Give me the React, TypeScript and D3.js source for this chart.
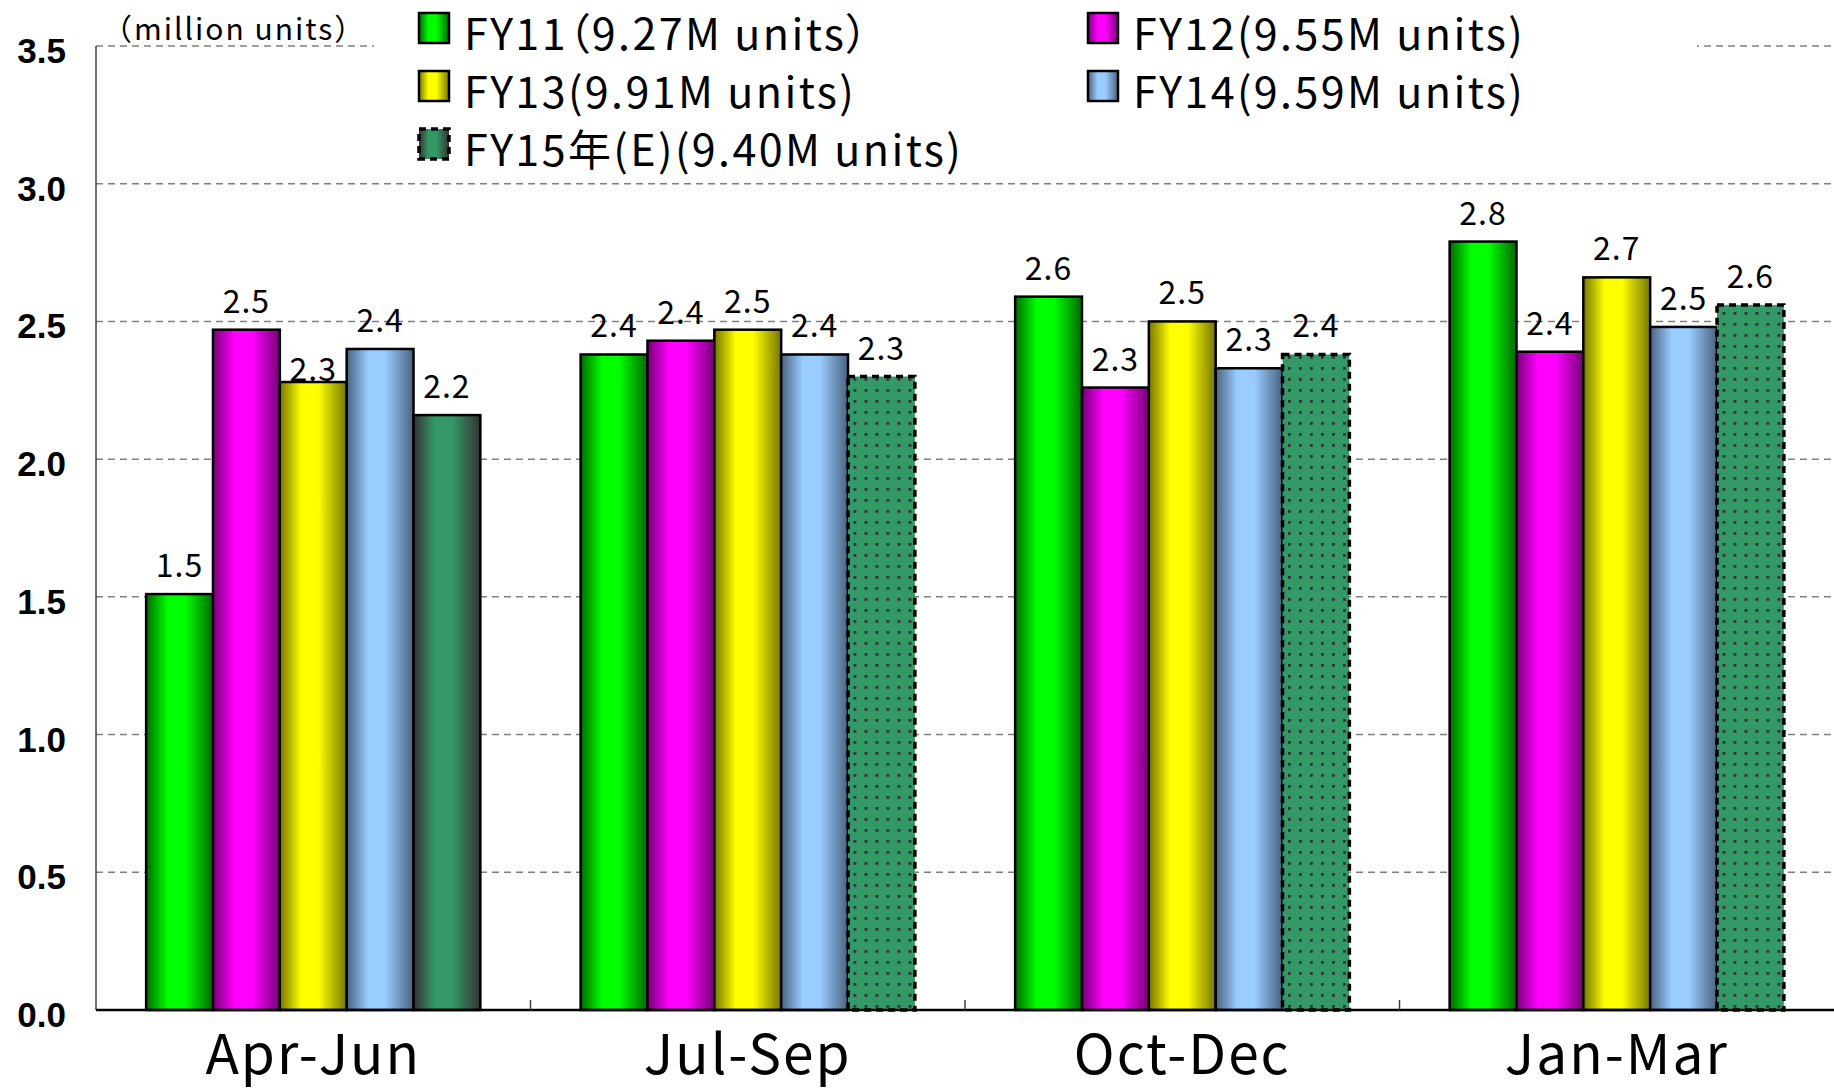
import React from 'react';
import * as d3 from 'd3';

// Quarterly unit sales (million units) by fiscal year
const categories = ['Apr-Jun', 'Jul-Sep', 'Oct-Dec', 'Jan-Mar'];
const seriesKeys = ['FY11', 'FY12', 'FY13', 'FY14', 'FY15'];
const seriesLabels = [
  'FY11（9.27M units）',
  'FY12(9.55M units)',
  'FY13(9.91M units)',
  'FY14(9.59M units)',
  'FY15年(E)(9.40M units)',
];
const fy11 = [1.51, 2.38, 2.59, 2.79];
const fy12 = [2.47, 2.43, 2.26, 2.39];
const fy13 = [2.28, 2.47, 2.5, 2.66];
const fy14 = [2.4, 2.38, 2.33, 2.48];
const fy15 = [2.16, 2.3, 2.38, 2.56];
// FY15 quarters that are still estimates (drawn dotted with dashed outline)
const fy15Estimated = [false, true, true, true];
const yTicks = [0, 0.5, 1.0, 1.5, 2.0, 2.5, 3.0, 3.5];
const unitLabel = '（million units）';

const seriesValues = [fy11, fy12, fy13, fy14, fy15];

// gradient colours: [edge, centre]
const palette: Record<string, [string, string]> = {
  FY11: ['#006a00', '#00ff00'],
  FY12: ['#760076', '#ff00ff'],
  FY13: ['#767600', '#ffff00'],
  FY14: ['#4a6280', '#99ccff'],
  FY15: ['#333333', '#339966'],
};

const JP = "'Noto Sans CJK JP', 'Noto Sans', sans-serif";
const BOLD = "'Liberation Sans', Arial, sans-serif";

// label that sits directly on its bar instead of above it
const labelGapOverrides: Record<string, number> = { 'FY13|Apr-Jun': 1 };

export default function App() {
  const W = 1834;
  const H = 1089;
  const plotLeft = 96;
  const plotRight = 1834;
  const plotTop = 46;
  const plotBottom = 1010;

  const y = d3.scaleLinear().domain([0, 3.5]).range([plotBottom, plotTop]);
  const x0 = d3.scaleBand<string>().domain(categories).range([plotLeft, plotRight]).paddingInner(0).paddingOuter(0);
  const x1 = d3
    .scaleBand<string>()
    .domain(seriesKeys)
    .range([0, x0.bandwidth()])
    .paddingInner(0)
    .paddingOuter(0.75);
  const fmt = d3.format('.1f');

  const legendCols = [419, 1088];
  const legendRows = [50, 108, 166];
  const legendPos = [
    [0, 0],
    [1, 0],
    [0, 1],
    [1, 1],
    [0, 2],
  ];

  return (
    <svg
      width={W}
      height={H}
      viewBox={`0 0 ${W} ${H}`}
      style={{ position: 'absolute', left: 0, top: 0, background: '#fff' }}
    >
      <defs>
        {seriesKeys.map((k) => (
          <linearGradient key={k} id={`grad-${k}`} x1="0" y1="0" x2="1" y2="0">
            <stop offset="0" stopColor={palette[k][0]} />
            <stop offset="0.32" stopColor={palette[k][1]} />
            <stop offset="0.58" stopColor={palette[k][1]} />
            <stop offset="1" stopColor={palette[k][0]} />
          </linearGradient>
        ))}
        <pattern id="dots" patternUnits="userSpaceOnUse" width="11" height="11">
          <rect width="11" height="11" fill="#339966" />
          <rect x="4" y="4" width="2.8" height="2.8" fill="#333333" />
        </pattern>
      </defs>

      <rect x={0} y={0} width={W} height={H} fill="#fff" />

      {/* horizontal gridlines */}
      {yTicks
        .filter((t) => t > 0)
        .map((t) => (
          <line
            key={`g${t}`}
            x1={plotLeft}
            x2={plotRight}
            y1={y(t)}
            y2={y(t)}
            stroke="#808080"
            strokeWidth={1.5}
            strokeDasharray="7 5"
          />
        ))}

      {/* y tick labels */}
      {yTicks.map((t) => (
        <text
          key={`yt${t}`}
          x={66}
          y={y(t) + 17}
          textAnchor="end"
          fontFamily={BOLD}
          fontWeight="bold"
          fontSize={35}
          fill="#000"
        >
          {fmt(t)}
        </text>
      ))}

      {/* bars */}
      {categories.map((c, ci) => (
        <g key={c} transform={`translate(${x0(c)},0)`}>
          {seriesKeys.map((k, si) => {
            const v = seriesValues[si][ci];
            const est = k === 'FY15' && fy15Estimated[ci];
            return (
              <rect
                key={k}
                x={x1(k)}
                y={y(v)}
                width={x1.bandwidth()}
                height={y(0) - y(v)}
                fill={est ? 'url(#dots)' : `url(#grad-${k})`}
                stroke="#000"
                strokeWidth={est ? 3.5 : 2.5}
                strokeDasharray={est ? '7 5' : undefined}
              />
            );
          })}
        </g>
      ))}

      {/* value labels */}
      {categories.map((c, ci) =>
        seriesKeys.map((k, si) => {
          const v = seriesValues[si][ci];
          const gap = labelGapOverrides[`${k}|${c}`] ?? 17;
          return (
            <text
              key={`l${c}${k}`}
              x={(x0(c) as number) + (x1(k) as number) + x1.bandwidth() / 2}
              y={y(v) - gap}
              textAnchor="middle"
              fontFamily={JP}
              fontSize={32}
              letterSpacing={1}
              fill="#000"
            >
              {fmt(v)}
            </text>
          );
        })
      )}

      {/* axes */}
      <line x1={plotLeft} x2={plotLeft} y1={plotTop} y2={plotBottom} stroke="#404040" strokeWidth={1.5} />
      <line x1={plotLeft} x2={plotRight} y1={plotBottom} y2={plotBottom} stroke="#000" strokeWidth={2.5} />
      {categories.slice(1).map((c) => (
        <line
          key={`tk${c}`}
          x1={x0(c)}
          x2={x0(c)}
          y1={plotBottom}
          y2={plotBottom - 10}
          stroke="#404040"
          strokeWidth={1.5}
        />
      ))}

      {/* category labels */}
      {categories.map((c) => (
        <text
          key={`c${c}`}
          x={(x0(c) as number) + x0.bandwidth() / 2}
          y={1074}
          textAnchor="middle"
          fontFamily={JP}
          fontSize={55}
          letterSpacing={2}
          fill="#000"
        >
          {c}
        </text>
      ))}

      {/* unit caption */}
      <text x={102} y={40} fontFamily={JP} fontSize={30} letterSpacing={2} fill="#000">
        {unitLabel}
      </text>

      {/* legend */}
      <rect x={374} y={0} width={1323} height={172} fill="#fff" />
      {seriesKeys.map((k, si) => {
        const [col, row] = legendPos[si];
        const lx = legendCols[col];
        const ly = legendRows[row];
        const isEst = k === 'FY15';
        return (
          <g key={`lg${k}`}>
            <rect
              x={lx}
              y={ly - 37}
              width={30}
              height={30}
              fill={`url(#grad-${k})`}
              stroke="#000"
              strokeWidth={isEst ? 3.5 : 2.5}
              strokeDasharray={isEst ? '7 5' : undefined}
            />
            <text
              x={lx + 45}
              y={ly}
              fontFamily={JP}
              fontSize={43}
              letterSpacing={2.4}
              fill="#000"
              style={{ fontFeatureSettings: "'palt'" }}
            >
              {seriesLabels[si]}
            </text>
          </g>
        );
      })}
    </svg>
  );
}
